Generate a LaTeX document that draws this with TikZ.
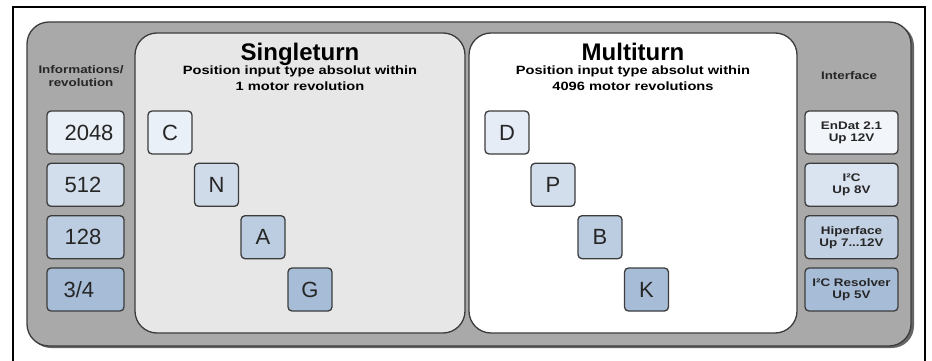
\documentclass[tikz,border=0pt]{standalone}
\usepackage{fontspec}
\setmainfont{Liberation Sans}
\newfontfamily\wideb[FakeStretch=1.22]{Liberation Sans Bold}
\definecolor{panelgray}{HTML}{A9A9A9}
\definecolor{singlefill}{HTML}{E7E7E7}
\definecolor{edge}{HTML}{3C3C3C}
\definecolor{bA}{HTML}{EAF0F8}
\definecolor{bB}{HTML}{D3DEEC}
\definecolor{bC}{HTML}{BCCCE1}
\definecolor{bD}{HTML}{A7BDD7}
\begin{document}
\begin{tikzpicture}[x=1pt,y=-1pt,
  panel/.style={draw=edge, line width=1.3pt, rounded corners=22pt},
  cbox/.style={draw=edge, line width=1.3pt, rounded corners=4pt, inner sep=0pt, minimum height=43pt},
  numbox/.style={cbox, minimum width=77pt},
  letbox/.style={cbox, minimum width=44pt, font=\fontsize{22}{22}\selectfont, text=black!85},
  ifbox/.style={cbox, minimum width=93pt, align=center, font=\wideb\fontsize{11}{12}\selectfont, text=black!85},
  numtxt/.style={anchor=west, inner sep=0pt, font=\fontsize{22}{22}\selectfont, text=black!85},
  title/.style={font=\bfseries\fontsize{24}{24}\selectfont, inner sep=0pt, anchor=base},
  subtitle/.style={font=\wideb\fontsize{12}{16}\selectfont, align=center, inner sep=0pt, anchor=base},
  colhead/.style={font=\wideb\fontsize{11}{13}\selectfont, align=center, inner sep=0pt, anchor=base, text=black!85}
]
\useasboundingbox (0,0) rectangle (932,361);
\fill[white] (0,0) rectangle (932,361);
% outer frame
\draw[line width=2pt] (13,380) -- (13,7.5) -- (925,7.5) -- (925,380);
% gray panel with shadow
\fill[black!60, rounded corners=22pt] (29,24) rectangle (914,348);
\draw[panel, fill=panelgray] (27,22) rectangle (911,346);
% singleturn and multiturn panels
\draw[panel, fill=singlefill] (135,33) rectangle (465,333);
\draw[panel, fill=white] (469,33) rectangle (797,333);
% titles
\node[title] (st) at (300,60) {Singleturn};
\node[subtitle] (sts) at (300,90) {Position input type absolut within\\1 motor revolution};
\node[title] (mt) at (633,60) {Multiturn};
\node[subtitle] (mts) at (633,90) {Position input type absolut within\\4096 motor revolutions};
\node[colhead] (ih) at (81,86) {Informations/\\revolution};
\node[colhead] (fh) at (849,80) {Interface};
% left column
\node[numbox, fill=bA] (n1) at (85.5,132.5) {};
\node[numbox, fill=bB] (n2) at (85.5,184.8) {};
\node[numbox, fill=bC] (n3) at (85.5,237.2) {};
\node[numbox, fill=bD] (n4) at (85.5,289.5) {};
\node[numtxt] (t1) at ([xshift=18pt]n1.west) {2048};
\node[numtxt] (t2) at ([xshift=18pt]n2.west) {512};
\node[numtxt] (t3) at ([xshift=18pt]n3.west) {128};
\node[numtxt] (t4) at ([xshift=17pt]n4.west) {3/4};
% singleturn letters
\node[letbox, fill=bA] (c) at (170,132.5) {C};
\node[letbox, fill=bB!85!bC] (n) at (216.5,184.8) {N};
\node[letbox, fill=bC] (a) at (263,237.2) {A};
\node[letbox, fill=bD] (g) at (310,289.5) {G};
% multiturn letters
\node[letbox, fill=bA!80!bB] (d) at (507,132.5) {D};
\node[letbox, fill=bB] (p) at (553,184.8) {P};
\node[letbox, fill=bC] (b) at (600,237.2) {B};
\node[letbox, fill=bD] (k) at (646.5,289.5) {K};
% interface column
\node[ifbox, fill=bA!60!white] (i1) at (851.5,132.5) {EnDat 2.1\\Up 12V};
\node[ifbox, fill=bB!70!bA] (i2) at (851.5,184.8) {I²C\\Up 8V};
\node[ifbox, fill=bC!80!bB] (i3) at (851.5,237.2) {Hiperface\\Up 7...12V};
\node[ifbox, fill=bD] (i4) at (851.5,289.5) {I²C Resolver\\Up 5V};
\end{tikzpicture}
\end{document}
